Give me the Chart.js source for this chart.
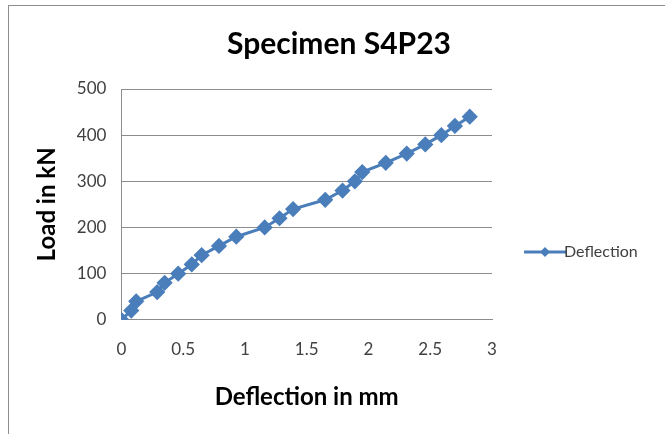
<!DOCTYPE html>
<html>
<head>
<meta charset="utf-8">
<script src="https://cdn.jsdelivr.net/npm/chart.js@4"></script>
<style>
  body { margin: 0; background: #fff; }
  #wrap { position: relative; width: 665px; height: 434px; overflow: hidden; }
  #frame { position: absolute; left: 8px; top: 5px; width: 700px; height: 460px; border: 1px solid #8c8c8c; box-sizing: border-box; }
  canvas { position: absolute; left: 0; top: 0; }
</style>
</head>
<body>
<div id="wrap">
  <div id="frame"></div>
  <canvas id="chart" width="665" height="434"></canvas>
</div>
<script>
// readings
const deflection = [0, 0.08, 0.12, 0.29, 0.35, 0.46, 0.57, 0.65, 0.79, 0.93, 1.16, 1.28, 1.39,
  1.65, 1.79, 1.89, 1.95, 2.14, 2.31, 2.46, 2.59, 2.70, 2.82];
const load = [0, 20, 40, 60, 80, 100, 120, 140, 160, 180, 200, 220, 240,
  260, 280, 300, 320, 340, 360, 380, 400, 420, 440];
const seriesName = 'Deflection';
const blue = '#4a7ebb';

const points = deflection.map((d, i) => ({ x: d, y: load[i] }));

// line + diamond picture for the legend entry (left part kept blank)
function legendMark() {
  const c = document.createElement('canvas');
  c.width = 56; c.height = 12;
  const g = c.getContext('2d');
  g.strokeStyle = blue; g.lineWidth = 3;
  g.beginPath(); g.moveTo(14, 6); g.lineTo(56, 6); g.stroke();
  g.fillStyle = blue;
  g.beginPath(); g.moveTo(35, 1); g.lineTo(40, 6); g.lineTo(35, 11); g.lineTo(30, 6); g.closePath(); g.fill();
  return c;
}
const mark = legendMark();

const ctx = document.getElementById('chart').getContext('2d');
new Chart(ctx, {
  type: 'scatter',
  data: {
    datasets: [{
      label: seriesName,
      data: points,
      showLine: true,
      borderColor: blue,
      backgroundColor: blue,
      borderWidth: 3,
      pointStyle: 'rectRot',
      pointRadius: 6,
      pointHoverRadius: 6
    }]
  },
  options: {
    responsive: false,
    animation: false,
    layout: { padding: { left: 33, right: 20, top: 8, bottom: 22 } },
    plugins: {
      title: {
        display: true,
        text: 'Specimen S4P23',
        font: { family: 'Lato', size: 30, weight: 'bold' },
        color: '#000',
        padding: { top: 18, bottom: 27 }
      },
      legend: {
        position: 'right',
        // empty title only pushes the entry down to where Excel put it
        title: { display: true, text: ' ', font: { size: 10 }, padding: { top: 72, bottom: 0 } },
        labels: {
          font: { family: 'Lato', size: 16 },
          color: '#404040',
          usePointStyle: true,
          pointStyleWidth: 36,
          padding: 28,
          generateLabels: () => [{
            text: seriesName,
            pointStyle: mark,
            fillStyle: blue,
            strokeStyle: blue,
            fontColor: '#404040',
            lineWidth: 0,
            datasetIndex: 0
          }]
        }
      },
      tooltip: { enabled: false }
    },
    scales: {
      x: {
        type: 'linear',
        min: 0,
        max: 3,
        ticks: {
          stepSize: 0.5,
          color: '#404040',
          font: { family: 'Lato', size: 17 },
          padding: 20,
          callback: (v) => String(v)
        },
        grid: { display: false, drawTicks: false },
        border: { display: true, color: '#8c8c8c' },
        title: {
          display: true,
          text: 'Deflection in mm',
          font: { family: 'Lato', size: 24, weight: 'bold' },
          color: '#000',
          padding: { top: 3, bottom: 0 }
        }
      },
      y: {
        min: 0,
        max: 500,
        ticks: { stepSize: 100, color: '#404040', font: { family: 'Lato', size: 17 }, padding: 15 },
        grid: { color: '#8c8c8c', drawTicks: false },
        border: { display: true, color: '#8c8c8c' },
        title: {
          display: true,
          text: 'Load in kN',
          font: { family: 'Lato', size: 24, weight: 'bold' },
          color: '#000',
          padding: 0
        }
      }
    }
  }
});
</script>
</body>
</html>
